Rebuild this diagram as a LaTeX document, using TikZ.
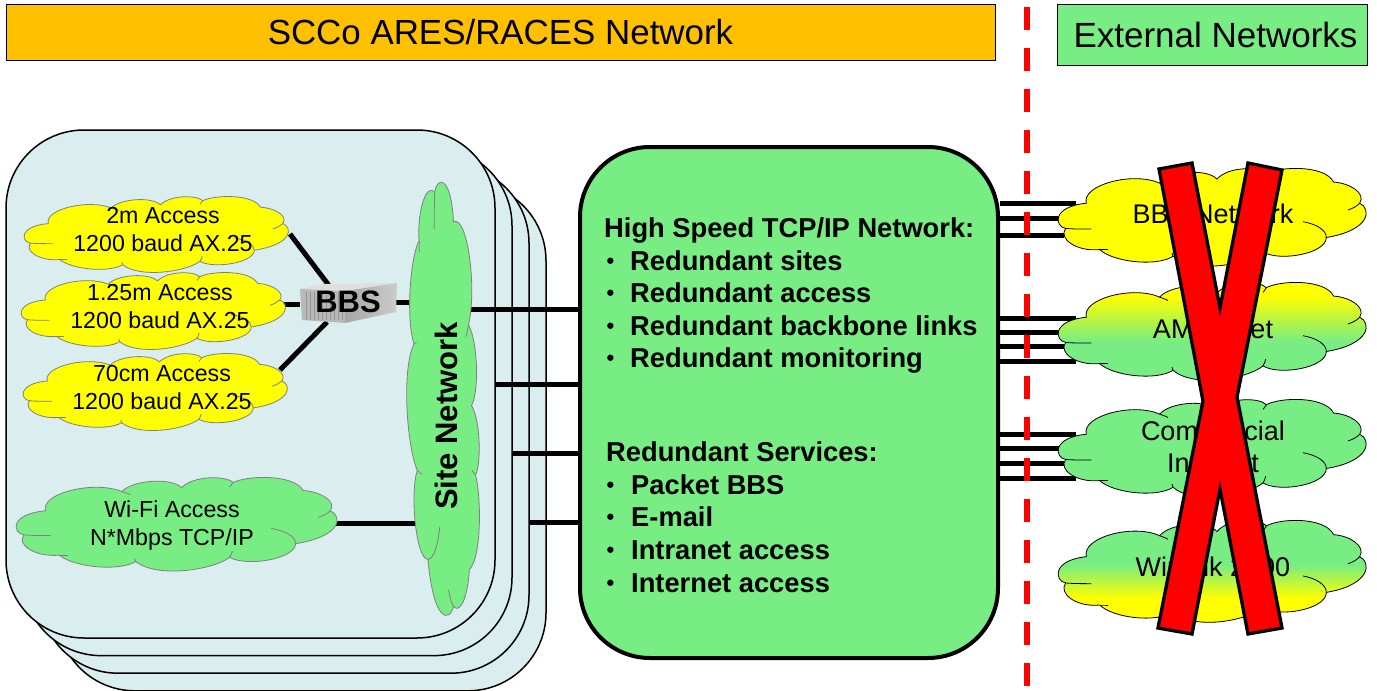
\documentclass[tikz,border=0pt]{standalone}
\usepackage{fontspec}
\setmainfont{Liberation Sans}
\usetikzlibrary{calc}
\definecolor{netgreen}{HTML}{77ED83}
\definecolor{netyellow}{HTML}{FFFF00}
\definecolor{panelblue}{HTML}{DAEDEF}
\definecolor{bannerorange}{HTML}{FFC000}
\pgfdeclarelayer{panels}
\pgfdeclarelayer{links}
\pgfdeclarelayer{clouds}
\pgfsetlayers{panels,links,clouds,main}
\pgfdeclareverticalshading{yellowdown}{100bp}{color(0bp)=(netgreen); color(46bp)=(netgreen); color(67bp)=(netyellow); color(100bp)=(netyellow)}
\pgfdeclareverticalshading{greendown}{100bp}{color(0bp)=(netyellow); color(39bp)=(netyellow); color(54bp)=(netgreen); color(100bp)=(netgreen)}
\tikzset{
  panel/.style={draw, line width=1.5pt, fill=panelblue, rounded corners=78pt, minimum width=489pt, minimum height=508pt},
  banner/.style={draw, line width=.8pt, inner sep=0pt},
  link/.style={line width=5pt, black},
  itemtext/.style={anchor=base west, inner sep=0pt, font=\fontsize{27.3}{30}\selectfont\bfseries},
  itemdot/.style={anchor=base west, inner sep=0pt, font=\fontsize{22}{24}\selectfont\bfseries},
  acctext/.style={align=center, font=\fontsize{23.2}{28}\selectfont},
  exttext/.style={align=center, font=\fontsize{27}{32}\selectfont},
}
% the cloud outline, traced with its centre at the origin
\newcommand{\cloudoutline}[1]{
  \path[#1] (-380,-38) .. controls (-395,-93) and (-240,-133) .. (-160,-98)
    .. controls (-130,-133) and (-20,-143) .. (12,-110)
    .. controls (45,-148) and (140,-148) .. (160,-126)
    .. controls (200,-148) and (335,-153) .. (362,-101)
    .. controls (410,-98) and (460,-68) .. (440,-38)
    .. controls (475,-23) and (475,42) .. (340,64)
    .. controls (340,112) and (200,137) .. (150,107)
    .. controls (100,147) and (-60,172) .. (-120,120)
    .. controls (-170,152) and (-300,137) .. (-340,100)
    .. controls (-410,107) and (-465,67) .. (-442,37)
    .. controls (-475,32) and (-485,-28) .. (-380,-38) -- cycle;
}
\newcommand{\cloudhooks}[1]{
  \draw[#1] (440,-38) .. controls (430,-28) and (420,-23) .. (405,-18);
  \draw[#1] (340,64) .. controls (340,42) and (310,24) .. (270,17);
  \draw[#1] (150,107) .. controls (155,99) and (157,92) .. (158,87);
  \draw[#1] (-120,120) .. controls (-122,117) and (-123,113) .. (-123,110);
  \draw[#1] (-340,100) .. controls (-330,100) and (-322,100) .. (-315,100);
  \draw[#1] (-442,37) .. controls (-420,39) and (-390,39) .. (-365,39);
  \draw[#1] (-160,-98) .. controls (-150,-94) and (-142,-92) .. (-135,-88);
  \draw[#1] (160,-126) .. controls (157,-120) and (153,-116) .. (150,-112);
}
% x, y, width, height, fill options, line options
\newcommand{\netcloud}[7][0]{
  \begin{scope}[shift={(#2,#3)}, rotate=#1, xscale=#4/930, yscale=#5/280]
    \cloudoutline{#6,#7}
    \cloudhooks{#7}
  \end{scope}
}
\begin{document}
\begin{tikzpicture}[x=1pt,y=-1pt]
  \useasboundingbox (0,0) rectangle (1377,691);

  \begin{pgfonlayer}{panels}
    \foreach \i in {3,2,1,0}
      \node[panel] (panel\i) at ({250.5+17*\i},{384+17.6*\i}) {};
  \end{pgfonlayer}

  % headings
  \node[banner, fill=bannerorange, minimum width=989pt, minimum height=56pt,
    font=\fontsize{34.9}{38}\selectfont] (sccohead) at (500.5,32) {SCCo ARES/RACES Network};
  \node[banner, fill=netgreen, minimum width=310pt, minimum height=61pt,
    font=\fontsize{35}{38}\selectfont] (exthead) at (1212,34.5) {\raisebox{-3pt}{\hspace{7pt}External Networks}};

  % central network
  \node[draw, line width=4pt, fill=netgreen, rounded corners=70pt, minimum width=418pt,
    minimum height=511pt] (hub) at (789,402.5) {};

  \node[itemtext] (hubhead) at (604,237) {High Speed TCP/IP Network:};
  \foreach \y/\t in {270/Redundant sites, 302/Redundant access, 335/Redundant backbone links, 367/Redundant monitoring}{
    \node[itemdot] at (606.5,{\y-2}) {\textbullet};
    \node[itemtext] at (630,\y) {\t};
  }
  \node[itemtext] (servhead) at (606,461) {Redundant Services:};
  \foreach \y/\t in {494/Packet BBS, 526/E-mail, 559/Intranet access, 592/Internet access}{
    \node[itemdot] at (606.5,{\y-2}) {\textbullet};
    \node[itemtext] at (631,\y) {\t};
  }

  % site clouds
  \begin{pgfonlayer}{clouds}
    \netcloud{157}{233.5}{266}{73}{fill=netyellow}{draw=gray,line width=.8pt}
    \netcloud{154}{310}{266}{74}{fill=netyellow}{draw=gray,line width=.8pt}
    \netcloud{156}{391}{266}{74}{fill=netyellow}{draw=gray,line width=.8pt}
    \netcloud{177.5}{523}{323}{90}{fill=netgreen}{draw=gray,line width=.8pt}
    \netcloud[-90]{444}{400}{436}{70}{fill=netgreen}{draw=gray,line width=.8pt}
    \netcloud{1213}{216}{310}{94}{fill=netyellow}{draw=black,line width=.8pt}
    \netcloud{1213}{330}{310}{94}{shade,shading=yellowdown}{draw=black,line width=.8pt}
    \netcloud{1213}{447}{310}{94}{fill=netgreen}{draw=black,line width=.8pt}
    \netcloud{1213}{570}{310}{98}{shade,shading=greendown}{draw=black,line width=.8pt}
  \end{pgfonlayer}

  \node[acctext] (acc2m) at (163,230) {2m Access\\1200 baud AX.25};
  \node[acctext] (acc125) at (160,307) {1.25m Access\\1200 baud AX.25};
  \node[acctext] (acc70) at (162,388) {70cm Access\\1200 baud AX.25};
  \node[acctext] (accwifi) at (172,525) {Wi-Fi Access\\N*Mbps TCP/IP};
  \node[rotate=90, font=\fontsize{31}{34}\selectfont\bfseries] (site) at (446,416) {Site Network};

  \node[exttext] (extbbs) at (1213,214) {BBS Network};
  \node[exttext] (extamp) at (1213,329) {AMPRNet};
  \node[exttext] (extcom) at (1213,447) {Commercial\\Internet};
  \node[exttext] (extwin) at (1213,567) {Winlink 2000};

  % server
  \fill[gray!25] (300,289) -- (322,284) -- (397,283) -- (345,291) -- cycle;
  \fill[gray!55] (300,289) -- (345,291) -- (345,323) -- (302,320) -- cycle;
  \shade[left color=gray!70, right color=gray!40] (345,291) -- (397,283) -- (396,312) -- (345,323) -- cycle;
  \foreach \x in {306,310,...,342}
    \draw[gray!85, line width=.8pt] (\x,292) -- (\x,320);
  \node[font=\fontsize{31}{34}\selectfont\bfseries, inner sep=0pt, minimum width=96pt, minimum height=40pt] (bbs) at (348,302) {BBS};

  \coordinate (port2m) at (290,234);
  \coordinate (port125) at (284,304);
  \coordinate (port70) at (280,370);
  \coordinate (portwifi) at (335,523);
  \coordinate (bbs2m) at (328.6,285);
  \coordinate (bbs70) at (327,322);
  \coordinate (sitewest) at (416,302);
  \coordinate (siteeast) at (465,309);

  \begin{pgfonlayer}{links}
    \draw[link] (port2m) -- (bbs2m);
    \draw[link] (port125) -- (bbs.west |- port125);
    \draw[link] (port70) -- (bbs70);
    \draw[link] (bbs.east |- sitewest) -- (sitewest);
    \draw[link] (portwifi) -- (sitewest |- portwifi);
    \draw[link] (siteeast) -- (hub.west |- siteeast);
    \draw[link] (panel0.east |- 0,384) -- (hub.west |- 0,384);
    \draw[link] (panel1.east |- 0,453) -- (hub.west |- 0,453);
    \draw[link] (panel2.east |- 0,522) -- (hub.west |- 0,522);
    \foreach \y/\e in {203/1076, 218/1076, 235/1064, 318/1076, 332/1076, 346/1064, 361/1076,
      434/1076, 448/1076, 463/1064, 478/1076}
      \draw[link] (hub.east |- 0,\y) -- (\e,\y);
  \end{pgfonlayer}

  % border between the networks
  \coordinate (bordertop) at (1027,7);
  \coordinate (borderend) at (1027,691);
  \draw[red, line width=6pt, dash pattern=on 23pt off 18pt] (bordertop) -- (borderend);

  % the cross over the external clouds
  \draw[fill=red, line width=3.3pt, miter limit=10] (1159,169) -- (1192,163) -- (1220,308) -- (1248,163) -- (1282,170)
    -- (1237,397) -- (1282,628) -- (1248,634) -- (1220,489) -- (1192,634) -- (1158,628) -- (1203,401) -- cycle;
\end{tikzpicture}
\end{document}
